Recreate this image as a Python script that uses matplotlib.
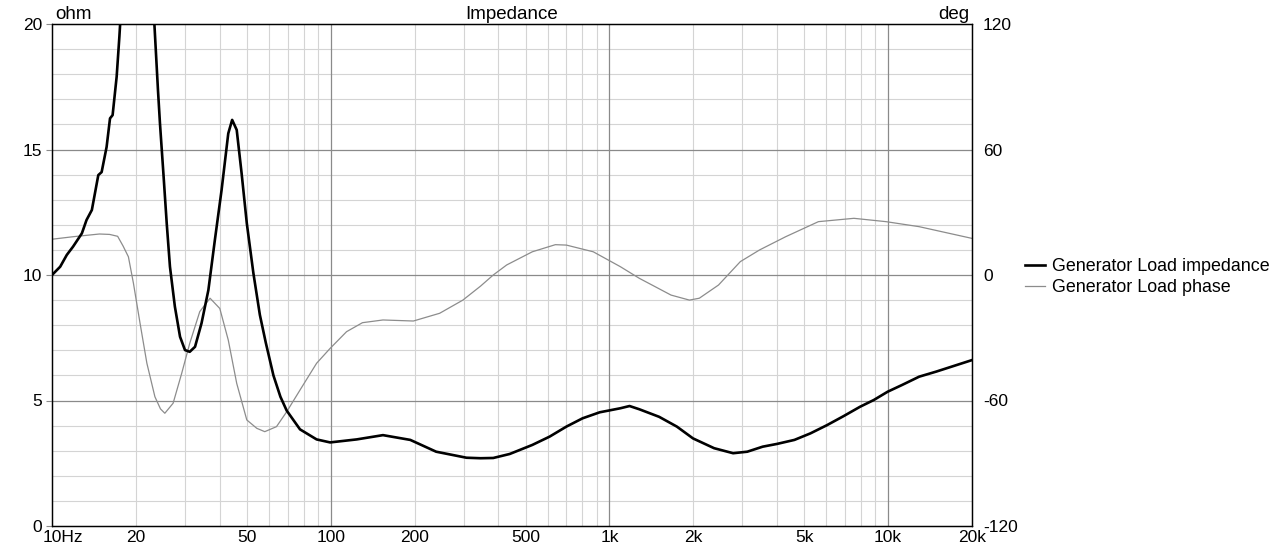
import matplotlib
matplotlib.use("Agg")
import matplotlib.pyplot as plt
import matplotlib.transforms as mtransforms
from matplotlib.ticker import FixedLocator, NullFormatter

plt.rcParams["font.family"] = ["Liberation Sans", "DejaVu Sans"]
plt.rcParams["axes.unicode_minus"] = False

# Impedance magnitude (ohm)
imp_freq = [10, 10.7, 11.3, 11.9, 12.8, 13.3, 13.9, 14.66, 15.07, 15.7, 16.15,
            16.5, 17.06, 17.45, 18.0, 20, 22.5, 23.3, 24.0, 24.4, 25.1, 25.8,
            26.5, 27.6, 28.8, 30.0, 31.2, 32.6, 34.4, 36.4, 38.4, 40.6, 42.9,
            44.3, 46.0, 47.9, 50.0, 52.8, 55.7, 58.5, 62.3, 66.0, 69.5, 77.6, 89,
            99.5, 124, 154, 193, 239, 307, 345, 383, 439, 529, 610, 701, 801,
            923, 1094, 1181, 1281, 1508, 1746, 1995, 2375, 2779, 3124, 3547,
            3993, 4612, 5263, 6040, 6929, 7929, 8886, 9963, 11230, 12930,
            14870, 20000]
imp_ohm = [10.0, 10.33, 10.8, 11.13, 11.66, 12.19, 12.59, 13.98, 14.1, 15.1,
           16.24, 16.37, 17.9, 19.5, 22.0, 26.0, 23.0, 20.0, 17.37, 16.04,
           14.05, 12.06, 10.33, 8.74, 7.54, 7.01, 6.94, 7.14, 8.08, 9.40,
           11.39, 13.39, 15.64, 16.18, 15.78, 14.05, 12.06, 10.07, 8.41, 7.3,
           6.0, 5.15, 4.6, 3.85, 3.45, 3.33, 3.45, 3.62, 3.43, 2.96, 2.72, 2.70,
           2.71, 2.87, 3.23, 3.56, 3.96, 4.29, 4.53, 4.69, 4.78, 4.65, 4.35,
           3.96, 3.49, 3.10, 2.90, 2.96, 3.16, 3.27, 3.43, 3.69, 4.02, 4.38,
           4.75, 5.02, 5.35, 5.62, 5.95, 6.15, 6.61]

# Phase (deg)
ph_freq = [10, 11.9, 14.8, 16.1, 17.2, 18.0, 18.8, 19.6, 20.7, 21.9, 23.4,
           24.5, 25.4, 27.2, 29.2, 31.2, 33.9, 36.9, 40.0, 42.9, 46.0, 50.0,
           54.3, 58.0, 63.9, 69.5, 77.6, 89, 99.5, 114, 130, 154, 198, 246,
           298, 345, 383, 428, 529, 640, 701, 875, 1094, 1281, 1664, 1937,
           2102, 2463, 2950, 3460, 4290, 5622, 7539, 9832, 12930, 20000]
ph_deg = [17.1, 18.3, 19.6, 19.4, 18.5, 13.8, 8.7, -4.0, -23.1, -42.2, -58.2,
          -64.0, -66.1, -61.3, -47.0, -32.7, -17.5, -11.1, -16.0, -31.1, -51.8,
          -69.3, -73.3, -74.9, -72.5, -65.4, -55.0, -42.2, -35.1, -27.1,
          -22.8, -21.5, -22.0, -18.3, -12.0, -5.3, 0.0, 4.8, 11.1, 14.5, 14.3,
          11.1, 4.0, -1.6, -9.6, -12.0, -11.1, -4.8, 6.4, 12.0, 18.3, 25.5,
          27.1, 25.5, 23.1, 17.5]

x_ticks = [10, 20, 50, 100, 200, 500, 1000, 2000, 5000, 10000, 20000]
x_labels = ["10Hz", "20", "50", "100", "200", "500", "1k", "2k", "5k", "10k", "20k"]
x_major_grid = [100, 1000, 10000]
x_minor_grid = [m * d for d in (10, 100, 1000) for m in range(2, 10)] + [20000]

fig = plt.figure(figsize=(12.79, 5.48), dpi=100)
ax = fig.add_axes([52 / 1279, 22 / 548, 920 / 1279, 502 / 548])
ax2 = ax.twinx()

# grid and phase live on the back axis, impedance on top
ax.set_zorder(ax2.get_zorder() + 1)
ax.patch.set_visible(False)
ax2.patch.set_visible(True)
ax2.patch.set_facecolor("white")

ax.set_xscale("log")
ax.set_xlim(10, 20000)
ax.set_ylim(0, 20)
ax2.set_ylim(-120, 120)

for f in x_minor_grid:
    ax2.axvline(f, color="#d4d4d4", lw=0.8, zorder=0)
for f in x_major_grid:
    ax2.axvline(f, color="#8a8a8a", lw=0.9, zorder=0.5)
for d in range(-108, 120, 12):
    if d % 60 == 0:
        ax2.axhline(d, color="#8a8a8a", lw=0.9, zorder=0.5)
    else:
        ax2.axhline(d, color="#d4d4d4", lw=0.8, zorder=0)

ax2.plot(ph_freq, ph_deg, color="#8c8c8c", lw=0.9, zorder=2,
         label="Generator Load phase")
ax.plot(imp_freq, imp_ohm, color="black", lw=1.9, zorder=3,
        label="Generator Load impedance")

ax.xaxis.set_major_locator(FixedLocator(x_ticks))
ax.set_xticklabels(x_labels)
ax.xaxis.set_minor_formatter(NullFormatter())
ax.tick_params(axis="x", which="minor", length=0)
ax.tick_params(axis="x", which="major", length=0, pad=3, labelsize=12.5)
first = ax.get_xticklabels()[0]
first.set_horizontalalignment("left")
first.set_transform(first.get_transform() +
                    mtransforms.ScaledTranslation(-9 / 100, 0, fig.dpi_scale_trans))

ax.set_yticks([0, 5, 10, 15, 20])
ax.tick_params(axis="y", length=4, width=0.8, color="#8a8a8a", pad=3, labelsize=12.5)
ax2.set_yticks([-120, -60, 0, 60, 120])
ax2.tick_params(axis="y", length=0, pad=8, labelsize=12.5)
for a in (ax, ax2):
    for s in a.spines.values():
        s.set_color("black")
        s.set_linewidth(0.9)

ax.text(0.003, 1.002, "ohm", transform=ax.transAxes, ha="left", va="bottom", fontsize=13.5)
ax.text(0.997, 1.002, "deg", transform=ax.transAxes, ha="right", va="bottom", fontsize=13.5)
ax.text(0.5, 1.002, "Impedance", transform=ax.transAxes, ha="center", va="bottom", fontsize=13.5)

h1, l1 = ax.get_legend_handles_labels()
h2, l2 = ax2.get_legend_handles_labels()
fig.legend(h1 + h2, l1 + l2, loc="upper left", bbox_to_anchor=(1018 / 1279, 1 - 251 / 548),
           frameon=False, fontsize=12.9, handlelength=1.1, handletextpad=0.4,
           labelspacing=0.22, borderaxespad=0)

fig.savefig("out.png", dpi=100)
